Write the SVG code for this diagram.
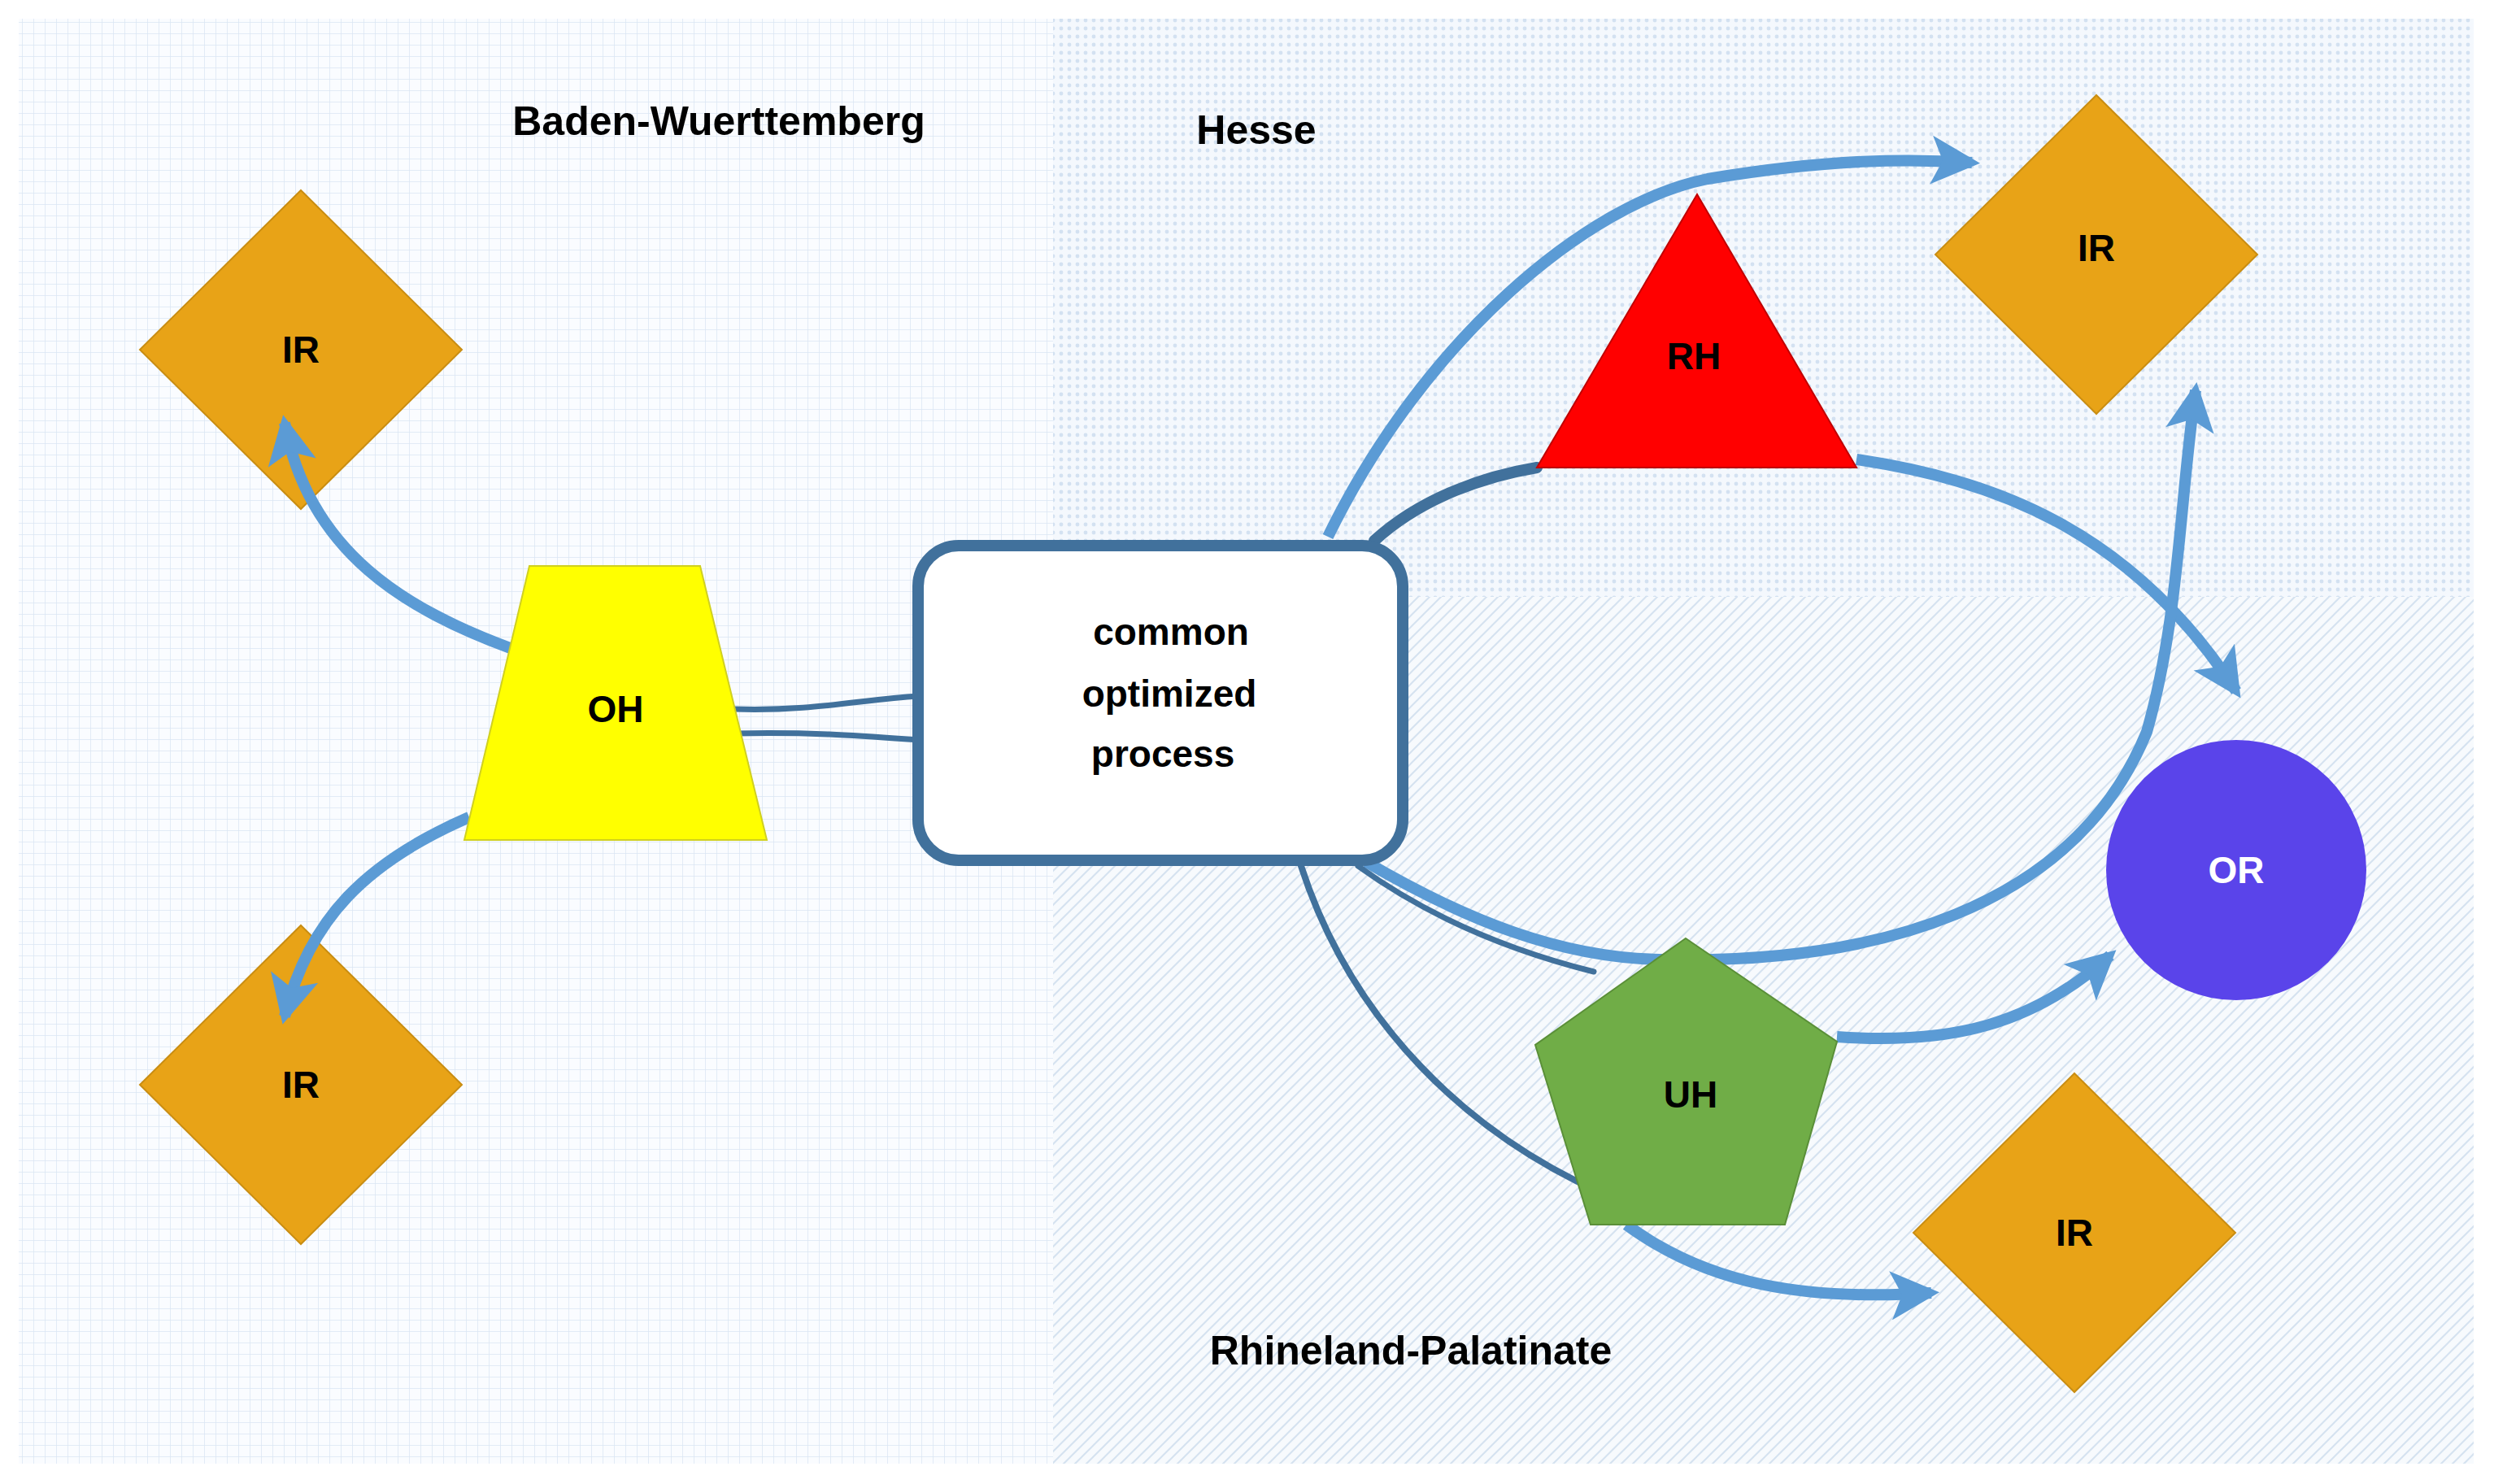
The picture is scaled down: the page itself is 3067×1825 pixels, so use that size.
<svg xmlns="http://www.w3.org/2000/svg" width="3067" height="1825" viewBox="0 0 3067 1825">
<defs>
<pattern id="grid" width="14" height="14" patternUnits="userSpaceOnUse"><rect width="14" height="14" fill="#fafcff"/><path d="M14 0V14M0 14H14" stroke="#dbe6f3" stroke-width="1.5"/></pattern>
<pattern id="dots" width="10" height="10" patternUnits="userSpaceOnUse"><rect width="10" height="10" fill="#f4f8fd"/><circle cx="5" cy="5" r="2.4" fill="#d3e1f1"/></pattern>
<pattern id="hatch" width="14" height="14" patternUnits="userSpaceOnUse"><rect width="14" height="14" fill="#f7fafd"/><path d="M0 14L14 0M-3 3L3 -3M11 17L17 11" stroke="#d5e2f0" stroke-width="2"/></pattern>
<marker id="ah" markerUnits="userSpaceOnUse" markerWidth="70" markerHeight="70" refX="50" refY="35" orient="auto"><path d="M0 5L60 35L0 65L14 35Z" fill="#5b9bd5"/></marker>
</defs>
<style>
.lbl{font-family:"Liberation Sans",Arial,sans-serif;font-weight:bold;font-size:46px;fill:#000;text-anchor:middle;dominant-baseline:central}
.reg{font-family:"Liberation Sans",Arial,sans-serif;font-weight:bold;font-size:50px;fill:#000;text-anchor:middle;dominant-baseline:central}
.arr{fill:none;stroke:#5b9bd5;stroke-width:14;marker-end:url(#ah)}
.dk{fill:none;stroke:#41719c;stroke-linecap:round}
.ir{fill:#e8a317;stroke:#c98d12;stroke-width:2}
</style>
<rect width="3067" height="1825" fill="#fff"/>
<rect x="23" y="23" width="1272" height="1777" fill="url(#grid)"/>
<rect x="1295" y="23" width="1747" height="711" fill="url(#dots)"/>
<rect x="1295" y="734" width="1747" height="1066" fill="url(#hatch)"/>
<text class="reg" x="884" y="149">Baden-Wuerttemberg</text>
<text class="reg" x="1545" y="160">Hesse</text>
<text class="reg" x="1735" y="1661">Rhineland-Palatinate</text>
<g id="nodes-ir">
<g id="ir1"><path class="ir" d="M370 234L568 430L370 626L172 430Z"/><text class="lbl" x="370" y="430">IR</text></g>
<g id="ir2"><path class="ir" d="M370 1138L568 1334L370 1530L172 1334Z"/><text class="lbl" x="370" y="1334">IR</text></g>
<g id="ir3"><path class="ir" d="M2578 117L2776 313L2578 509L2380 313Z"/><text class="lbl" x="2578" y="305">IR</text></g>
<g id="ir4"><path class="ir" d="M2551 1320L2749 1516L2551 1712L2353 1516Z"/><text class="lbl" x="2551" y="1516">IR</text></g>
</g>
<g id="connectors">
<path class="arr" d="M630 798C500 750 380 680 350 520"/>
<path class="arr" d="M577 1005C450 1060 380 1130 350 1250"/>
<path class="dk" stroke-width="7" d="M903 872C1000 875 1060 860 1129 856M903 902C1000 900 1060 905 1129 910"/>
<path class="arr" d="M1633 660C1750 420 1950 250 2100 220C2250 195 2350 195 2425 200"/>
<path class="arr" d="M2283 565C2450 590 2620 650 2750 850"/>
<path class="dk" stroke-width="14" d="M1690 665C1750 610 1830 585 1890 575"/>
<path class="arr" d="M1680 1060C1800 1130 1920 1180 2050 1180C2300 1185 2550 1120 2640 900C2680 760 2680 620 2700 480"/>
<path class="dk" stroke-width="7" d="M1670 1065C1760 1130 1860 1170 1960 1195"/>
<path class="arr" d="M2259 1275C2400 1285 2500 1260 2595 1175"/>
<path class="dk" stroke-width="8" d="M1600 1065C1660 1250 1800 1400 2000 1480"/>
<path class="arr" d="M2000 1506C2100 1580 2220 1600 2375 1590"/>
</g>
<g id="oh"><path d="M651 696L861 696L943 1033L571 1033Z" fill="#ffff00" stroke="#d0d020" stroke-width="2"/><text class="lbl" x="757" y="872">OH</text></g>
<g id="box"><rect x="1129" y="671" width="596" height="387" rx="50" fill="#fff" stroke="#41719c" stroke-width="14"/>
<text class="lbl" x="1440" y="777">common</text><text class="lbl" x="1438" y="853">optimized</text><text class="lbl" x="1430" y="927">process</text></g>
<g id="rh"><path d="M2087 239L2283 575L1890 575Z" fill="#ff0000" stroke="#c00000" stroke-width="2"/><text class="lbl" x="2083" y="438">RH</text></g>
<g id="or"><circle cx="2750" cy="1070" r="160" fill="#5a44ea"/><text class="lbl" x="2750" y="1070" style="fill:#fff">OR</text></g>
<g id="uh"><path d="M2073 1154L2259 1281L2195 1506L1956 1506L1888 1285Z" fill="#70ad47" stroke="#5a8f38" stroke-width="2"/><text class="lbl" x="2079" y="1346">UH</text></g>
</svg>
